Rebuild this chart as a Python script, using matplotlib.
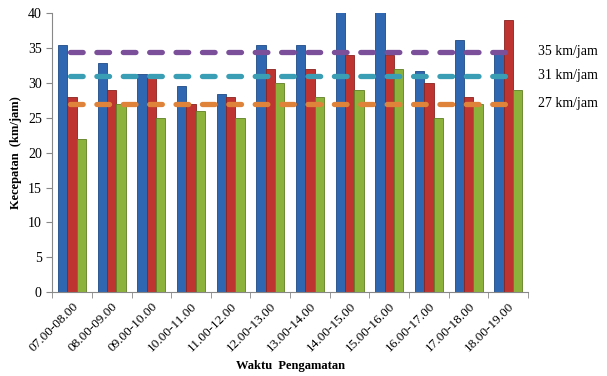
import numpy as np
import matplotlib
matplotlib.use('Agg')
import matplotlib.pyplot as plt
import matplotlib.transforms as mtransforms

# data
waktu = ['07.00-08.00', '08.00-09.00', '09.00-10.00', '10.00-11.00', '11.00-12.00', '12.00-13.00',
         '13.00-14.00', '14.00-15.00', '15.00-16.00', '16.00-17.00', '17.00-18.00', '18.00-19.00']
seri_biru = [35.4, 32.8, 31.3, 29.6, 28.4, 35.5, 35.4, 42, 42, 31.7, 36.2, 34.4]
seri_merah = [28, 29, 31, 27, 28, 32, 32, 34, 34, 30, 28, 39]
seri_hijau = [22, 27, 25, 26, 25, 30, 28, 29, 32, 25, 27, 29]
batas = [34.5, 31, 27]
batas_label = ['35 km/jam', '31 km/jam', '27 km/jam']

plt.rcParams['font.family'] = ['Liberation Serif', 'DejaVu Serif']

fig = plt.figure(figsize=(6.07, 3.76), dpi=100)
ax = fig.add_axes([0.086, 0.223, 0.784, 0.742])

x = np.arange(len(waktu))
w = 0.235
ax.bar(x - w, seri_biru, w, color='#2F67B1', edgecolor='#1F4A86', linewidth=0.6, zorder=2)
ax.bar(x, seri_merah, w, color='#BE3431', edgecolor='#8A2220', linewidth=0.6, zorder=2)
ax.bar(x + w, seri_hijau, w, color='#8DB23C', edgecolor='#5F7F24', linewidth=0.6, zorder=2)

# garis batas kecepatan
warna_garis = ['#7B4F9A', '#3A9FB4', '#E0833A']
trans = mtransforms.blended_transform_factory(ax.transAxes, ax.transData)
for y, lab, c in zip(batas, batas_label, warna_garis):
    ax.plot([x[0] - 0.05, x[-1] + 0.1], [y, y], color=c, linewidth=3.8,
            linestyle=(0, (2.4, 2.6)), dash_capstyle='round', zorder=3)
    ax.text(1.02, y, lab, transform=trans, fontsize=10, va='center', ha='left', clip_on=False)

ax.set_xlim(-0.5, len(waktu) - 0.5)
ax.set_ylim(0, 40)
ax.set_yticks(np.arange(0, 41, 5))
ax.set_xticks(x)
ax.set_xticklabels(waktu, rotation=45, ha='right', rotation_mode='anchor', fontsize=9.5)
ax.set_xticks(np.arange(-0.5, len(waktu)), minor=True)
ax.tick_params(axis='x', which='major', length=0, pad=6)
ax.tick_params(axis='x', which='minor', length=4, color='#888888')
ax.tick_params(axis='y', length=4, color='#888888', labelsize=10)

for s in ['top', 'right']:
    ax.spines[s].set_visible(False)
ax.spines['left'].set_color('#888888')
ax.spines['bottom'].set_color('#888888')

ax.set_ylabel('Kecepatan  (km/jam)', fontsize=9, fontweight='bold')
ax.set_xlabel('Waktu  Pengamatan', fontsize=9, fontweight='bold', labelpad=4)

fig.savefig('out.png', dpi=100)
